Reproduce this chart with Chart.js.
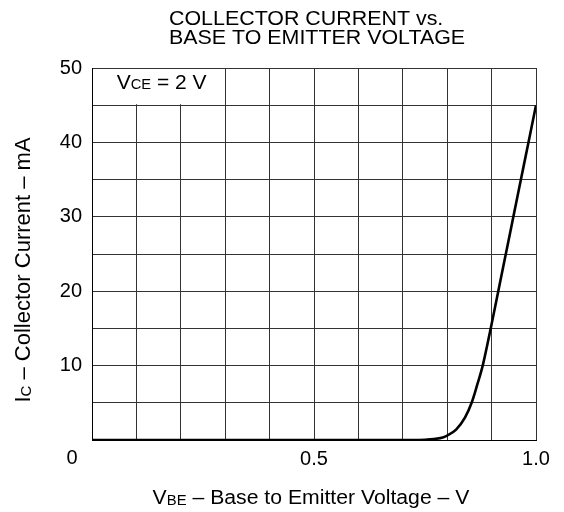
<!DOCTYPE html>
<html>
<head>
<meta charset="utf-8">
<script src="https://cdn.jsdelivr.net/npm/chart.js@4.4.1/dist/chart.umd.min.js"></script>
<style>
  html, body { margin: 0; padding: 0; background: #fff; }
  #wrap { width: 564px; height: 512px; position: relative; }
</style>
</head>
<body>
<div id="wrap"><canvas id="grafica"></canvas></div>
<script>
// Curva: V_BE (V) contra I_C (mA), V_CE = 2 V
const vbe = [0, 0.5, 0.72, 0.75, 0.77, 0.79, 0.80, 0.82, 0.84, 0.855, 0.868, 0.880, 0.898, 0.915, 0.932, 0.949, 0.966, 0.983, 1.0];
const ic  = [0, 0,   0,    0.03, 0.12, 0.35, 0.6,  1.4,  3.0,  5,     7.5,   10,    15,    20,    25,    30,    35,    40,    45];

// Etiquetas de los ejes
const xTickVals = [0.5, 1.0];
const xTickText = ['0.5', '1.0'];
const yTickVals = [10, 20, 30, 40, 50];
const tituloLineas = ['COLLECTOR CURRENT vs.', 'BASE TO EMITTER VOLTAGE'];

const FUENTE = '"Liberation Sans", Arial, sans-serif';

// Dibuja texto con partes de distinto tamaño (subíndices)
function textoRico(ctx, partes, x, y, alinear, escalaX) {
  let total = 0;
  partes.forEach(p => {
    ctx.font = `${p.size}px ${FUENTE}`;
    total += ctx.measureText(p.t).width;
  });
  ctx.save();
  ctx.translate(x, y);
  ctx.scale(escalaX, 1);
  ctx.fillStyle = '#000';
  ctx.textAlign = 'left';
  ctx.textBaseline = 'alphabetic';
  let cx = alinear === 'center' ? -total / 2 : 0;
  partes.forEach(p => {
    ctx.font = `${p.size}px ${FUENTE}`;
    ctx.fillText(p.t, cx, p.dy || 0);
    cx += ctx.measureText(p.t).width;
  });
  ctx.restore();
}

const textos = {
  id: 'textos',
  afterDraw(chart) {
    const ctx = chart.ctx;
    const xs = chart.scales.x, ys = chart.scales.y;

    // Título en dos líneas
    textoRico(ctx, [{ t: tituloLineas[0], size: 20 }], 169, 25, 'left', 1.07);
    textoRico(ctx, [{ t: tituloLineas[1], size: 20 }], 169, 43.5, 'left', 1.07);

    // Recuadro con la condición V_CE
    const bx0 = xs.getPixelForValue(0), bx1 = xs.getPixelForValue(0.3);
    const by0 = ys.getPixelForValue(50), by1 = ys.getPixelForValue(45);
    ctx.save();
    ctx.fillStyle = '#fff';
    ctx.fillRect(bx0 + 1, by0 + 1, bx1 - bx0 - 2, by1 - by0 - 2);
    ctx.restore();
    textoRico(ctx, [
      { t: 'V', size: 20 },
      { t: 'CE', size: 14 },
      { t: ' = 2 V', size: 20 }
    ], (bx0 + bx1) / 2 + 3, 89, 'center', 1.05);

    // Etiqueta 0 de la esquina
    ctx.save();
    ctx.font = `20px ${FUENTE}`;
    ctx.fillStyle = '#000';
    ctx.textAlign = 'center';
    ctx.textBaseline = 'middle';
    ctx.fillText('0', xs.getPixelForValue(0) - 20, 458);
    ctx.restore();

    // Título del eje X
    textoRico(ctx, [
      { t: 'V', size: 20 },
      { t: 'BE', size: 14, dy: 1 },
      { t: ' \u2013 Base to Emitter Voltage \u2013 V', size: 20 }
    ], 311, 504, 'center', 1.06);

    // Título del eje Y (girado)
    ctx.save();
    ctx.translate(30, 270);
    ctx.rotate(-Math.PI / 2);
    textoRico(ctx, [
      { t: 'I', size: 22 },
      { t: 'C', size: 15, dy: 1 },
      { t: ' \u2013 Collector Current \u2013 mA', size: 22 }
    ], 0, 0, 'center', 1.0);
    ctx.restore();
  }
};

const ctxGraf = document.getElementById('grafica').getContext('2d');
new Chart(ctxGraf, {
  type: 'scatter',
  data: {
    datasets: [{
      data: vbe.map((v, i) => ({ x: v, y: ic[i] })),
      showLine: true,
      borderColor: '#000',
      borderWidth: 2.6,
      pointRadius: 0,
      cubicInterpolationMode: 'monotone',
      fill: false
    }]
  },
  options: {
    responsive: true,
    maintainAspectRatio: false,
    animation: false,
    layout: { padding: { top: 68, right: 28, left: 0, bottom: 0 } },
    plugins: { legend: { display: false }, tooltip: { enabled: false } },
    scales: {
      x: {
        type: 'linear', min: 0, max: 1,
        afterFit: s => { s.height = 72; },
        grid: { color: '#333', lineWidth: 1, drawTicks: false },
        border: { color: '#000', width: 1 },
        ticks: {
          stepSize: 0.1, autoSkip: false, maxRotation: 0, padding: 7,
          color: '#000', font: { family: FUENTE, size: 20 },
          callback: v => {
            const k = xTickVals.findIndex(t => Math.abs(t - v) < 1e-6);
            return k >= 0 ? xTickText[k] : '';
          }
        }
      },
      y: {
        type: 'linear', min: 0, max: 50,
        afterFit: s => { s.width = 92; },
        grid: { color: '#333', lineWidth: 1, drawTicks: false },
        border: { color: '#000', width: 1 },
        ticks: {
          stepSize: 5, autoSkip: false, padding: 10,
          color: '#000', font: { family: FUENTE, size: 20 },
          callback: v => yTickVals.includes(v) ? String(v) : ''
        }
      }
    }
  },
  plugins: [textos]
});
</script>
</body>
</html>
